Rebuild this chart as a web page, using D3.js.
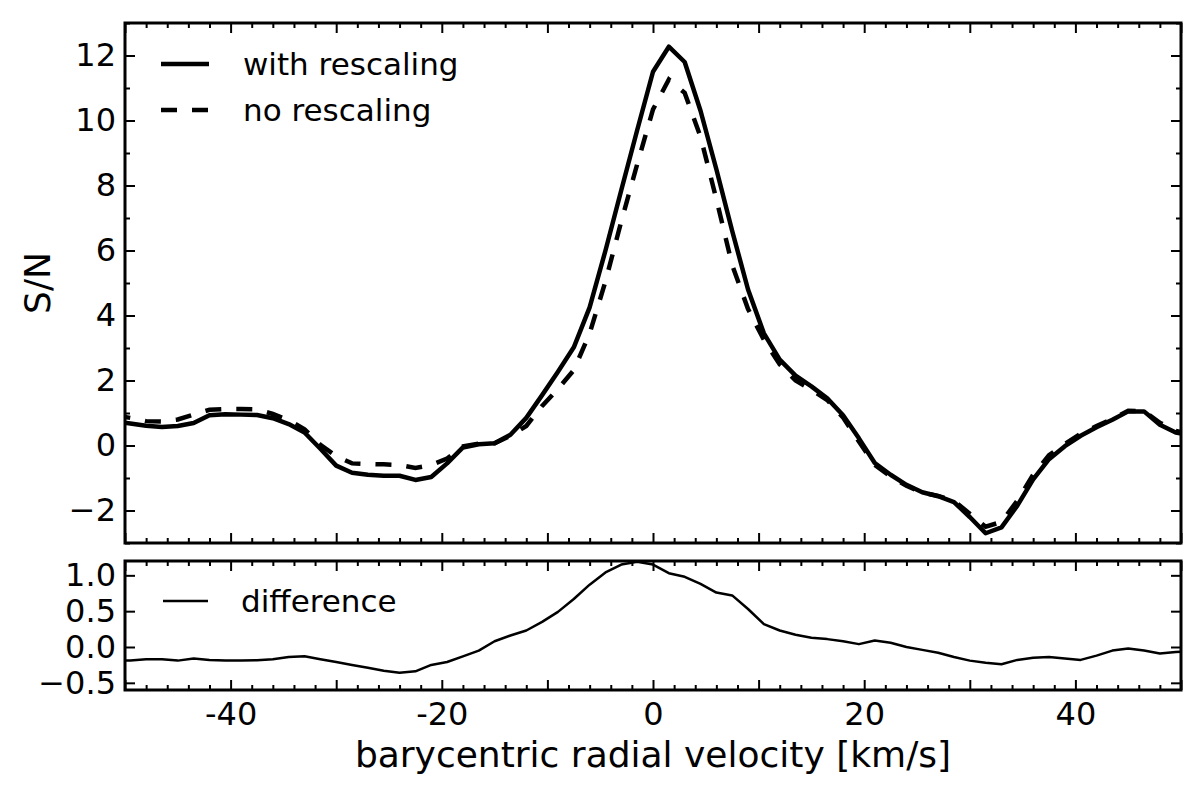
<!DOCTYPE html>
<html>
<head>
<meta charset="utf-8">
<script src="https://cdn.jsdelivr.net/npm/d3@7"></script>
<style>
  html, body { margin: 0; background: #fff; }
  svg { display: block; font-family: "DejaVu Sans", sans-serif; }
</style>
</head>
<body>
<svg id="chart" width="1200" height="802"></svg>
<script>
// velocity grid [km/s] and the three profiles
const VELOCITY = [-51, -49.5, -48, -46.5, -45, -43.5, -42, -40.5, -39, -37.5,
  -36, -34.5, -33, -31.5, -30, -28.5, -27, -25.5, -24, -22.5,
  -21, -19.5, -18, -16.5, -15, -13.5, -12, -10.5, -9, -7.5,
  -6, -4.5, -3, -1.5, 0, 1.5, 3, 4.5, 6, 7.5,
  9, 10.5, 12, 13.5, 15, 16.5, 18, 19.5, 21, 22.5,
  24, 25.5, 27, 28.5, 30, 31.5, 33, 34.5, 36, 37.5,
  39, 40.5, 42, 43.5, 45, 46.5, 48, 49.5, 51];
const SN_WITH = [0.74, 0.68, 0.61, 0.57, 0.60, 0.69, 0.93, 0.96, 0.95, 0.94,
  0.84, 0.66, 0.40, -0.10, -0.62, -0.84, -0.90, -0.93, -0.93, -1.06,
  -0.97, -0.55, -0.06, 0.04, 0.07, 0.33, 0.85, 1.55, 2.27, 3.02,
  4.25, 6.0, 7.86, 9.7, 11.5, 12.27, 11.8, 10.3, 8.5, 6.6,
  4.8, 3.45, 2.64, 2.15, 1.82, 1.45, 0.93, 0.22, -0.54, -0.90,
  -1.21, -1.44, -1.56, -1.74, -2.2, -2.70, -2.52, -1.85, -1.04, -0.42,
  -0.02, 0.3, 0.56, 0.79, 1.05, 1.05, 0.64, 0.40, 0.32];
const SN_NO = [0.93, 0.85, 0.75, 0.74, 0.80, 0.95, 1.10, 1.12, 1.12, 1.11,
  0.97, 0.78, 0.50, 0.02, -0.33, -0.55, -0.57, -0.58, -0.60, -0.69,
  -0.60, -0.40, -0.03, 0.06, 0.07, 0.30, 0.60, 1.22, 1.74, 2.32,
  3.45, 5.05, 6.9, 8.65, 10.34, 11.26, 10.85, 9.5, 7.58, 5.55,
  4.2, 3.25, 2.5, 2.0, 1.72, 1.40, 0.86, 0.12, -0.60, -0.95,
  -1.24, -1.45, -1.55, -1.70, -2.1, -2.50, -2.35, -1.70, -0.90, -0.30,
  0.05, 0.36, 0.60, 0.82, 1.07, 1.06, 0.70, 0.45, 0.33];
const DIFF = [-0.19, -0.19, -0.17, -0.17, -0.19, -0.16, -0.18, -0.19, -0.19, -0.185,
  -0.17, -0.14, -0.13, -0.17, -0.21, -0.25, -0.29, -0.33, -0.36, -0.34,
  -0.25, -0.21, -0.13, -0.05, 0.08, 0.16, 0.23, 0.35, 0.49, 0.67,
  0.87, 1.04, 1.15, 1.19, 1.15, 1.03, 0.98, 0.88, 0.76, 0.72,
  0.53, 0.32, 0.23, 0.17, 0.13, 0.11, 0.08, 0.04, 0.09, 0.06,
  0.0, -0.04, -0.08, -0.14, -0.19, -0.22, -0.24, -0.18, -0.15, -0.14,
  -0.16, -0.18, -0.12, -0.05, -0.02, -0.05, -0.09, -0.07, -0.06];

const X_MAJOR = [-50, -40, -30, -20, -10, 0, 10, 20, 30, 40, 50];
const X_LABELS = [-40, -20, 0, 20, 40];
const TOP_Y_MAJOR = [-2, 0, 2, 4, 6, 8, 10, 12];
const TOP_Y_MINOR = [-3, -1, 1, 3, 5, 7, 9, 11, 13];
const BOT_Y_MAJOR = [-0.5, 0.0, 0.5, 1.0];
const LEGEND_TOP = ["with rescaling", "no rescaling"];
const LEGEND_BOT = ["difference"];

(function () {
  const L = 125, R = 1181;
  const TOP = {y0: 23, y1: 543}, BOT = {y0: 561, y1: 690};
  const DASH = "16,15";
  const svg = d3.select("#chart");

  const x = d3.scaleLinear([-50, 50], [L, R]);
  const yTop = d3.scaleLinear([-3, 13], [TOP.y1, TOP.y0]);
  const yBot = d3.scaleLinear([-0.6, 1.2], [BOT.y1, BOT.y0]);
  const xMinor = d3.range(-50, 51, 2).filter(v => v % 10 !== 0);

  const rows = VELOCITY.map((v, i) => ({v, w: SN_WITH[i], n: SN_NO[i], d: DIFF[i]}));

  // clip per panel
  const defs = svg.append("defs");
  [["clipTop", TOP], ["clipBot", BOT]].forEach(([id, p]) =>
    defs.append("clipPath").attr("id", id).append("rect")
      .attr("x", L).attr("y", p.y0).attr("width", R - L).attr("height", p.y1 - p.y0));

  // inward ticks on all four sides, optional labels
  function ticks(g, axis, vals, size, fmt, pad) {
    const a = axis.tickValues(vals).tickSizeInner(-size).tickSizeOuter(0)
      .tickPadding(pad || 0).tickFormat(fmt || (() => ""));
    g.call(a);
    g.select(".domain").remove();
    g.selectAll(".tick line").attr("stroke", "#000").attr("stroke-width", 2);
    g.selectAll(".tick text").attr("fill", "#000").attr("font-size", 32)
      .attr("font-family", "DejaVu Sans");
    return g;
  }

  function panel(p, y, yMajor, yMinor, yFmt, showX) {
    const axes = svg.append("g");
    ticks(axes.append("g").attr("transform", `translate(0,${p.y1})`),
      d3.axisBottom(x), X_MAJOR, 10);
    ticks(axes.append("g").attr("transform", `translate(0,${p.y1})`),
      d3.axisBottom(x), xMinor, 5);
    ticks(axes.append("g").attr("transform", `translate(0,${p.y0})`),
      d3.axisTop(x), X_MAJOR, 10);
    ticks(axes.append("g").attr("transform", `translate(0,${p.y0})`),
      d3.axisTop(x), xMinor, 5);
    ticks(axes.append("g").attr("transform", `translate(${L},0)`),
      d3.axisLeft(y), yMajor, 10, yFmt, 9);
    ticks(axes.append("g").attr("transform", `translate(${R},0)`),
      d3.axisRight(y), yMajor, 10);
    if (yMinor) {
      ticks(axes.append("g").attr("transform", `translate(${L},0)`),
        d3.axisLeft(y), yMinor, 5);
      ticks(axes.append("g").attr("transform", `translate(${R},0)`),
        d3.axisRight(y), yMinor, 5);
    }
    if (showX) {
      ticks(axes.append("g").attr("transform", `translate(0,${p.y1})`),
        d3.axisBottom(x), X_LABELS, 0, d => String(d), 12)
        .selectAll(".tick line").remove();
    }
    svg.append("rect").attr("x", L).attr("y", p.y0)
      .attr("width", R - L).attr("height", p.y1 - p.y0)
      .attr("fill", "none").attr("stroke", "#000").attr("stroke-width", 3);
  }

  // upper panel: S/N with and without rescaling
  const gTop = svg.append("g").attr("clip-path", "url(#clipTop)");
  const lineW = d3.line().x(r => x(r.v)).y(r => yTop(r.w));
  const lineN = d3.line().x(r => x(r.v)).y(r => yTop(r.n));
  gTop.append("path").datum(rows).attr("d", lineN).attr("fill", "none")
    .attr("stroke", "#000").attr("stroke-width", 4.5).attr("stroke-dasharray", DASH);
  gTop.append("path").datum(rows).attr("d", lineW).attr("fill", "none")
    .attr("stroke", "#000").attr("stroke-width", 4.5).attr("stroke-linejoin", "round");
  panel(TOP, yTop, TOP_Y_MAJOR, TOP_Y_MINOR, d3.format("d"), false);

  // lower panel: difference
  const gBot = svg.append("g").attr("clip-path", "url(#clipBot)");
  gBot.append("path").datum(rows)
    .attr("d", d3.line().x(r => x(r.v)).y(r => yBot(r.d)))
    .attr("fill", "none").attr("stroke", "#000").attr("stroke-width", 2.5)
    .attr("stroke-linejoin", "round");
  panel(BOT, yBot, BOT_Y_MAJOR, null, d3.format(".1f"), true);

  // legends
  const leg = svg.append("g").attr("font-size", 31).attr("fill", "#000");
  LEGEND_TOP.forEach((t, i) => {
    const yy = 64 + i * 46;
    leg.append("line").attr("x1", 161).attr("x2", 209).attr("y1", yy).attr("y2", yy)
      .attr("stroke", "#000").attr("stroke-width", 4.5)
      .attr("stroke-dasharray", i ? DASH : null);
    leg.append("text").attr("x", 243).attr("y", yy + 11).text(t);
  });
  LEGEND_BOT.forEach(t => {
    leg.append("line").attr("x1", 163).attr("x2", 208).attr("y1", 601).attr("y2", 601)
      .attr("stroke", "#000").attr("stroke-width", 2.5);
    leg.append("text").attr("x", 241).attr("y", 612).text(t);
  });

  // axis titles
  svg.append("text").attr("x", (L + R) / 2).attr("y", 767)
    .attr("text-anchor", "middle").attr("font-size", 36)
    .text("barycentric radial velocity [km/s]");
  svg.append("text").attr("transform", `translate(50,${(TOP.y0 + TOP.y1) / 2}) rotate(-90)`)
    .attr("text-anchor", "middle").attr("font-size", 36).text("S/N");
})();
</script>
</body>
</html>
